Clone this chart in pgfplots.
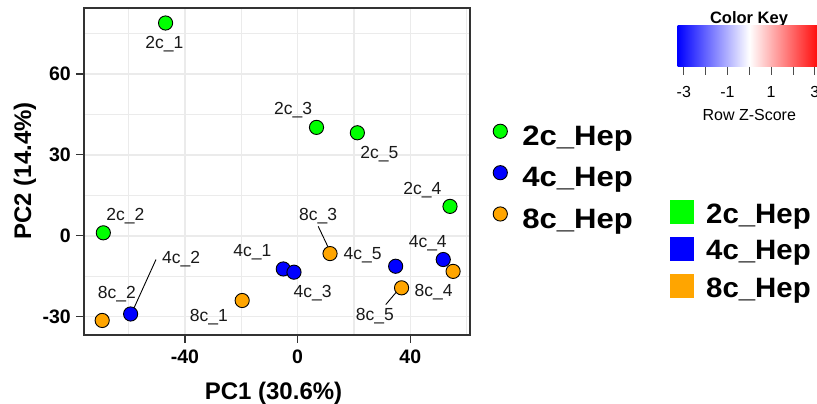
\documentclass[border=0pt]{standalone}
\usepackage{fontspec}
\setmainfont{Liberation Sans}
\newfontfamily\legendwide[FakeStretch=1.11]{Liberation Sans}
\newfontfamily\keywide[FakeStretch=1.05]{Liberation Sans}
\usepackage{pgfplots}
\usepackage{pgfplotstable}
\pgfplotsset{compat=1.18}

\definecolor{grpA}{HTML}{00FF00}
\definecolor{grpB}{HTML}{0000FF}
\definecolor{grpC}{HTML}{FFA500}
\definecolor{gridc}{HTML}{EBEBEB}
\definecolor{framec}{HTML}{333333}

\newcommand\fsz[1]{\fontsize{#1}{#1}\selectfont}

% PCA scores (PC1, PC2) per sample group
\pgfplotstableread{
x y
-46.9 78.9
-69.0 1.1
6.7 40.2
54.1 10.9
21.2 38.2
}\grpTwo
\pgfplotstableread{
x y
-5.1 -12.3
-59.3 -29.0
-1.3 -13.5
51.7 -8.8
34.8 -11.3
}\grpFour
\pgfplotstableread{
x y
-19.7 -24.0
-69.4 -31.4
11.5 -6.6
55.2 -13.2
36.9 -19.3
}\grpEight

\begin{document}
\begin{tikzpicture}[x=1pt,y=1pt]
\useasboundingbox (0,0) rectangle (817,404);
\clip (0,0) rectangle (817,404);

\begin{axis}[
  at={(84pt,69pt)}, anchor=south west,
  scale only axis, width=386pt, height=327pt,
  xmin=-75.86, xmax=61.2, ymin=-36.79, ymax=84.47,
  xtick={-40,0,40}, xticklabels={-40,0,40},
  ytick={-30,0,30,60}, yticklabels={-30,0,30,60},
  minor xtick={-60,-20,20,60}, minor ytick={-15,15,45,75},
  grid=both,
  major grid style={draw=gridc, line width=1.6pt},
  minor grid style={draw=gridc, line width=1.1pt},
  tick pos=left, tick align=outside,
  major tick length=8pt, minor tick length=0pt,
  every tick/.style={draw=framec, line width=1.2pt},
  axis line style={draw=framec, line width=1.5pt},
  xticklabel style={font=\bfseries\fsz{19.5}, inner sep=0pt, text=black},
  yticklabel style={font=\bfseries\fsz{19.5}, inner sep=0pt, text=black},
  xticklabel shift=7pt, yticklabel shift=5pt,
  xlabel={PC1 (30.6\%)}, ylabel={PC2 (14.4\%)},
  xlabel style={font=\bfseries\fsz{24}, at={(axis description cs:0.491,-0.1966)}, anchor=base},
  ylabel style={font=\bfseries\fsz{24}, at={(axis description cs:-0.1373,0.502)}, anchor=base},
  legend style={at={(axis description cs:1.058,0.4832)}, anchor=west,
    draw=none, fill=none, inner sep=0pt, row sep=18.5pt, column sep=14.3pt,
    font=\legendwide\bfseries\fsz{28}, nodes={inner sep=0pt}},
  legend cell align=left,
  legend image code/.code={\path (0pt,-7.5pt) (15pt,7.5pt);
    \draw[#1] plot coordinates {(7.5pt,5.3pt)};},
]
\addplot[only marks, mark=*, mark size=7.1pt,
  mark options={fill=grpA, draw=black, line width=0.9pt}] table {\grpTwo};
\addlegendentry{2c\_Hep}
\addplot[only marks, mark=*, mark size=7.1pt,
  mark options={fill=grpB, draw=black, line width=0.9pt}] table {\grpFour};
\addlegendentry{4c\_Hep}
\addplot[only marks, mark=*, mark size=7.1pt,
  mark options={fill=grpC, draw=black, line width=0.9pt}] table {\grpEight};
\addlegendentry{8c\_Hep}

% sample labels with leader segments
\begin{scope}[every node/.style={font=\fsz{17.5}, inner sep=0pt, text=black!90}]
\node at (axis cs:-47.3,71.0) {2c\_1};
\node at (axis cs:-61.2,7.2) {2c\_2};
\node at (axis cs:-1.6,46.7) {2c\_3};
\node at (axis cs:44.3,16.9) {2c\_4};
\node at (axis cs:29.0,30.4) {2c\_5};
\node at (axis cs:-16.1,-6.1) {4c\_1};
\node at (axis cs:-41.4,-8.8) {4c\_2};
\node at (axis cs:5.3,-21.2) {4c\_3};
\node at (axis cs:46.2,-2.6) {4c\_4};
\node at (axis cs:23.1,-7.2) {4c\_5};
\node at (axis cs:-31.5,-30.2) {8c\_1};
\node at (axis cs:-64.2,-21.8) {8c\_2};
\node at (axis cs:7.3,7.2) {8c\_3};
\node at (axis cs:48.3,-21.0) {8c\_4};
\node at (axis cs:27.4,-29.9) {8c\_5};
\end{scope}
\draw[black, line width=0.9pt] (axis cs:-50.3,-8.8) -- (axis cs:-58.9,-28.6);
\draw[black, line width=0.9pt] (axis cs:7.3,3.5) -- (axis cs:11.5,-5.7);
\draw[black, line width=0.9pt] (axis cs:31.3,-25.5) -- (axis cs:36.8,-18.7);
\end{axis}

% heat-map colour key
\node[font=\bfseries\fsz{16.5}, anchor=base, inner sep=0pt] at (749,380) {Color Key};
\shade[left color=blue, right color=red, middle color=white] (677.7,337.3) rectangle (821,378);
\foreach \xx in {683.8,705.6,727.5,749.3,771.1,793.0,814.8}
  \draw[gray!60!black, line width=0.8pt] (\xx,337.3) -- (\xx,329);
\foreach \xx/\lab in {683.8/-3,727.5/-1,771.1/1,814.8/3}
  \node[font=\fsz{16}, anchor=base, inner sep=0pt] at (\xx,306.7) {\lab};
\node[font=\fsz{16}, anchor=base, inner sep=0pt] at (749.3,283.3) {Row Z-Score};

% heat-map column groups
\fill[grpA] (670,180) rectangle (694,204);
\fill[grpB] (670,143) rectangle (694,167.3);
\fill[grpC] (670,106) rectangle (694,130);
\begin{scope}[every node/.style={font=\keywide\bfseries\fsz{28}, anchor=base west, inner sep=0pt}]
\node at (706,180.7) {2c\_Hep};
\node at (706,144) {4c\_Hep};
\node at (706,106.7) {8c\_Hep};
\end{scope}
\end{tikzpicture}
\end{document}
